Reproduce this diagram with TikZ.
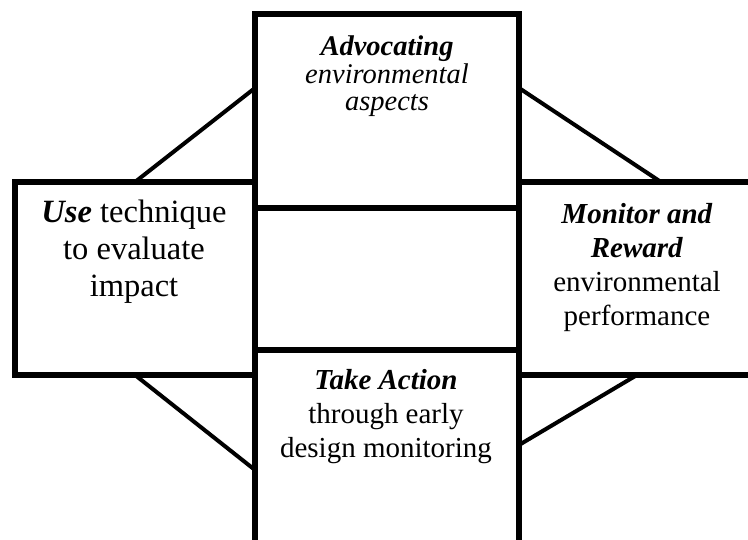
\documentclass[tikz,border=0pt]{standalone}
\usepackage{fontspec}
\setmainfont{Liberation Serif}

\tikzset{
  panel/.style={draw, line width=6pt, inner sep=0pt, outer sep=0pt},
  caption/.style={anchor=north, inner sep=0pt, align=center},
  link/.style={line width=4pt},
}

\begin{document}
\begin{tikzpicture}[x=1pt, y=-1pt]

            \useasboundingbox (0,0) rectangle (748,540);

            % Centre column (top, middle, bottom)
            \node[panel, minimum width=264pt, minimum height=193.5pt] (adv) at (387,111.25) {};
            \node[panel, minimum width=264pt, minimum height=142pt] (mid) at (387,279) {};
            \node[panel, minimum width=264pt, minimum height=196pt] (act) at (387,448) {};

            % Side panels
            \node[panel, minimum width=240pt, minimum height=193pt] (use) at (135,278.5) {};
            \node[panel, minimum width=236pt, minimum height=193pt] (mon) at (637,278.5) {};

            % Texts
            \node[caption, font=\fontsize{28.5}{27.5}\selectfont] (advtext) at (387,36)
                {\textbf{\textit{Advocating}}\\\textit{environmental}\\\textit{aspects}};
            \node[caption, font=\fontsize{32.5}{37}\selectfont] (usetext) at (134,200)
                {\textbf{\textit{Use}} technique\\to evaluate\\impact};
            \node[caption, font=\fontsize{29}{34}\selectfont] (montext) at (637,203)
                {\textbf{\textit{Monitor and}}\\\textbf{\textit{Reward}}\\environmental\\performance};
            \node[caption, font=\fontsize{29}{34}\selectfont] (acttext) at (386,369)
                {\textbf{\textit{Take Action}}\\through early\\design monitoring};

            % Diagonal links
            \coordinate (advl) at (255,88);
            \coordinate (advr) at (519,88);
            \coordinate (monn) at (661,182);
            \coordinate (actl) at (255,470);
            \coordinate (actr) at (519,445);
            \draw[link] (use.north) -- (advl);
            \draw[link] (advr) -- (monn);
            \draw[link] (use.south) -- (actl);
            \draw[link] (actr) -- (mon.south);

        \end{tikzpicture}
\end{document}
